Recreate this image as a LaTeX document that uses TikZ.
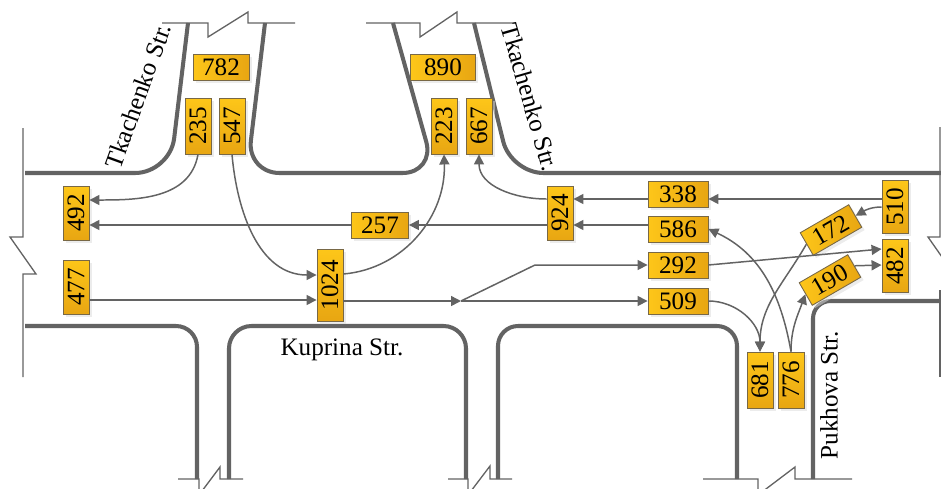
\documentclass[tikz,border=0pt]{standalone}
\usepackage{fontspec}
\setmainfont{Liberation Serif}
\usetikzlibrary{arrows.meta,shadows}

\definecolor{roadgray}{RGB}{99,99,99}
\definecolor{boxedge}{RGB}{120,104,70}
\definecolor{boxlight}{RGB}{253,198,25}
\definecolor{boxdark}{RGB}{232,166,18}

\begin{document}
\begin{tikzpicture}[x=0.02cm, y=0.02cm,
	road/.style={draw=roadgray, line width=2.3pt},
	brk/.style={draw=roadgray, line width=0.75pt},
	flow/.style={draw=roadgray, line width=0.85pt, -{Triangle[length=2mm,width=2mm]}},
	cnt/.style={draw=boxedge, line width=0.5pt, left color=boxlight, right color=boxdark,
		inner sep=0pt, minimum height=0.52cm, minimum width=1.12cm,
		font=\fontsize{14.3}{16}\selectfont,
		drop shadow={shadow xshift=1.6pt, shadow yshift=-1.6pt, fill=black!15}},
	vcnt/.style={cnt, rotate=90, top color=boxlight, bottom color=boxdark},
	str/.style={font=\fontsize{14.3}{16}\selectfont}]

		\useasboundingbox (0,0) rectangle (941,-488);

		% Roads
		\draw[road, rounded corners=0.7cm] (25,-173) -- (170,-173) -- (188,-23);
		\draw[road, rounded corners=0.65cm] (265,-23) -- (247,-173) -- (435,-173) -- (393,-23);
		\draw[road, rounded corners=0.65cm] (474,-23) -- (511,-173) -- (941,-173);
		\draw[road, rounded corners=0.42cm] (25,-326) -- (197,-326) -- (197,-479);
		\draw[road, rounded corners=0.45cm] (229,-479) -- (229,-326) -- (466,-326) -- (466,-479);
		\draw[road, rounded corners=0.4cm] (498,-479) -- (498,-326) -- (737,-326) -- (737,-479);
		\draw[road, rounded corners=0.35cm] (813,-479) -- (813,-301) -- (941,-301);

		% Breaks
		\draw[brk] (162,-23) -- (208,-23) -- (208,-37) -- (248,-12) -- (248,-23) -- (295,-23);
		\draw[brk] (366,-23) -- (420,-23) -- (420,-37) -- (457,-12) -- (457,-23) -- (516,-23);
		\draw[brk] (23,-128) -- (23,-237) -- (10,-237) -- (36,-274) -- (23,-274) -- (23,-377);
		\draw[brk] (940,-127) -- (940,-237) -- (928,-237) -- (942,-257);
		\draw[brk] (940,-290) -- (940,-377);
		\draw[brk] (178,-479) -- (199,-479) -- (199,-495) -- (220,-467) -- (220,-479) -- (243,-479);
		\draw[brk] (448,-479) -- (468,-479) -- (468,-495) -- (490,-466) -- (490,-479) -- (512,-479);
		\draw[brk] (703,-479) -- (758,-479) -- (758,-495) -- (795,-467) -- (795,-479) -- (852,-479);

		% Street names
		\node[str, rotate=70] (tkleft) at (138,-96) {Tkachenko Str.};
		\node[str, rotate=-74] (tkright) at (530,-97) {Tkachenko Str.};
		\node[str] (kuprina) at (342,-350) {Kuprina Str.};
		\node[str, rotate=90] (pukhova) at (829,-395) {Pukhova Str.};

		% Nodes
		\node[cnt] (n782) at (221,-67) {782};
		\node[cnt, minimum width=1.3cm] (n890) at (443,-67) {890};
		\node[vcnt] (n235) at (198,-126) {235};
		\node[vcnt] (n547) at (232,-126) {547};
		\node[vcnt] (n223) at (444,-126) {223};
		\node[vcnt] (n667) at (479,-126) {667};
		\node[vcnt, minimum width=1.08cm] (n492) at (76,-213) {492};
		\node[vcnt, minimum width=1.08cm] (n477) at (76,-287) {477};
		\node[cnt, minimum width=1.14cm] (n257) at (380,-225) {257};
		\node[vcnt, minimum width=1.44cm] (n1024) at (330,-285) {1024};
		\node[vcnt, minimum width=1.08cm] (n924) at (560,-213) {924};
		\node[cnt, minimum width=1.2cm] (n338) at (678,-194) {338};
		\node[cnt, minimum width=1.2cm] (n586) at (678,-229) {586};
		\node[cnt, minimum width=1.2cm] (n292) at (678,-265) {292};
		\node[cnt, minimum width=1.2cm] (n509) at (678,-301) {509};
		\node[vcnt, minimum width=1.06cm] (n510) at (895,-207) {510};
		\node[vcnt, minimum width=1.06cm] (n482) at (895,-266) {482};
		\node[cnt, rotate=30] (n172) at (831,-230) {172};
		\node[cnt, rotate=30] (n190) at (830,-280) {190};
		\node[vcnt] (n681) at (760,-380) {681};
		\node[vcnt] (n776) at (791,-380) {776};

		\coordinate (fork) at (461,-301);
		\coordinate (bend) at (535,-265);

		% Edges
		\draw[flow] (n235.west) to[out=-100,in=0] (n492.south |- 0,-200);
		\draw[flow] (n257.west) -- (n492.south |- 0,-225);
		\draw[flow] (n924.north |- 0,-225) -- (n257.east);
		\draw[flow] (n586.west |- 0,-225) -- (n924.south |- 0,-225);
		\draw[flow] (n338.west |- 0,-199) -- (n924.south |- 0,-199);
		\draw[flow] (n510.north |- 0,-199) -- (n338.east |- 0,-199);
		\draw[flow] (n924.north |- 0,-199) to[out=180,in=-90] (n667.west);
		\draw[flow] (n547.west) to[out=-85,in=180] (n1024.north |- 0,-275);
		\draw[flow] (n477.south |- 0,-300) -- (n1024.north |- 0,-300);
		\draw[flow] (n1024.south |- 0,-274) to[out=5,in=-88] (n223.west);
		\draw[flow] (n1024.south |- 0,-301) -- (fork);
		\draw[flow] (fork) -- (bend) -- (n292.west);
		\draw[flow] (fork) -- (n509.west);
		\draw[flow] (n292.east) -- (n482.north |- 0,-249);
		\draw[flow] (n190.east) -- (n482.north |- 0,-265);
		\draw[flow] (n510.north |- 0,-207) to[out=180,in=30] (n172.east);
		\draw[flow] (n172.west) to[out=-120,in=90] (n681.east);
		\draw[flow] (n509.east) to[out=0,in=90] (n681.east);
		\draw[flow] (n776.east) to[out=100,in=-25] (n586.east);
		\draw[flow] (n776.east) to[out=90,in=-110] (n190.west);

	\end{tikzpicture}
\end{document}
